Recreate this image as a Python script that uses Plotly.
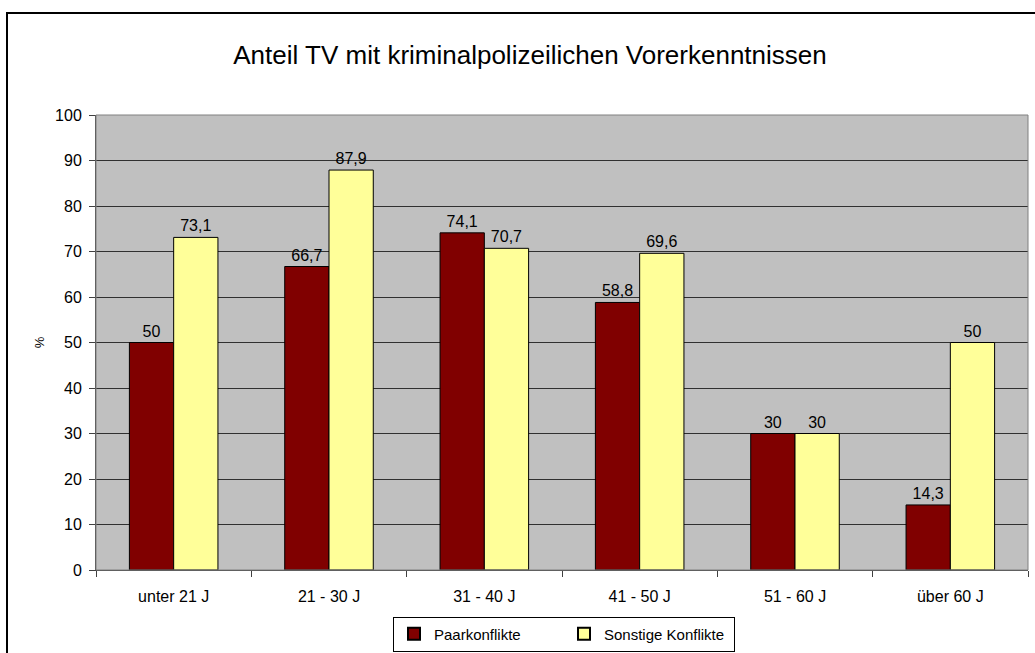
import plotly.graph_objects as go

categories = ["unter 21 J", "21 - 30 J", "31 - 40 J", "41 - 50 J", "51 - 60 J", "über 60 J"]
paarkonflikte = [50, 66.7, 74.1, 58.8, 30, 14.3]
sonstige = [73.1, 87.9, 70.7, 69.6, 30, 50]
y_ticks = [0, 10, 20, 30, 40, 50, 60, 70, 80, 90, 100]

def fmt(v):
    return f"{v:g}".replace(".", ",")

FONT = "Liberation Sans, Arial, sans-serif"

fig = go.Figure()
fig.add_trace(go.Bar(
    x=categories, y=paarkonflikte, name="Paarkonflikte",
    marker=dict(color="#800000", line=dict(color="#000000", width=1)),
    text=[fmt(v) for v in paarkonflikte], textposition="outside",
    textfont=dict(size=16, color="#000000", family=FONT), cliponaxis=False,
))
fig.add_trace(go.Bar(
    x=categories, y=sonstige, name="Sonstige Konflikte",
    marker=dict(color="#FFFF99", line=dict(color="#000000", width=1)),
    text=[fmt(v) for v in sonstige], textposition="outside",
    textfont=dict(size=16, color="#000000", family=FONT), cliponaxis=False,
))

W, H = 1035, 653
L, R, T, B = 96, 7, 115, 83
pw, ph = W - L - R, H - T - B

def px_x(x):
    return (x - L) / pw

def px_y(y):
    return (H - B - y) / ph

fig.update_layout(
    width=W, height=H,
    margin=dict(l=L, r=R, t=T, b=B, autoexpand=False),
    paper_bgcolor="#FFFFFF",
    plot_bgcolor="#C0C0C0",
    font=dict(family=FONT, size=16, color="#000000"),
    barmode="group",
    bargap=0.43,
    bargroupgap=0,
    title=dict(text="Anteil TV mit kriminalpolizeilichen Vorerkenntnissen",
               x=530 / W, xanchor="center", y=1 - 55 / H, yanchor="middle",
               font=dict(size=26, family=FONT, color="#000000")),
    showlegend=True,
    legend=dict(orientation="h", x=px_x(564), xanchor="center",
                y=px_y(634), yanchor="middle",
                bordercolor="#000000", borderwidth=1, bgcolor="#FFFFFF",
                font=dict(size=15, family=FONT), itemsizing="constant",
                traceorder="normal", itemwidth=30, entrywidth=125,
                entrywidthmode="pixels"),
    xaxis=dict(
        type="category", showgrid=False, tickson="boundaries",
        ticks="outside", ticklen=6, tickcolor="#404040",
        showline=True, linecolor="#404040", linewidth=1,
        tickfont=dict(size=16, family=FONT), zeroline=False,
        ticklabelstandoff=12, automargin=False,
    ),
    yaxis=dict(
        range=[0, 100], tickvals=y_ticks, ticktext=[str(v) for v in y_ticks],
        showgrid=True, gridcolor="#303030", gridwidth=1,
        ticks="outside", ticklen=6, tickcolor="#404040",
        showline=True, linecolor="#404040", linewidth=1,
        tickfont=dict(size=16, family=FONT), zeroline=False,
        ticklabelstandoff=4, automargin=False,
        title=dict(text="%", font=dict(size=13, family=FONT), standoff=7),
    ),
    shapes=[
        dict(type="rect", xref="paper", yref="paper",
             x0=0, x1=1, y0=0, y1=1, line=dict(color="#808080", width=1),
             fillcolor="rgba(0,0,0,0)", layer="above"),
        dict(type="rect", xref="paper", yref="paper",
             x0=px_x(7), x1=px_x(1060), y0=px_y(13), y1=px_y(680),
             line=dict(color="#000000", width=2),
             fillcolor="rgba(0,0,0,0)"),
    ],
)

fig.write_html("out.html", config={"displayModeBar": False},
               post_script="document.body.style.margin='0px';document.body.style.overflow='hidden';")
